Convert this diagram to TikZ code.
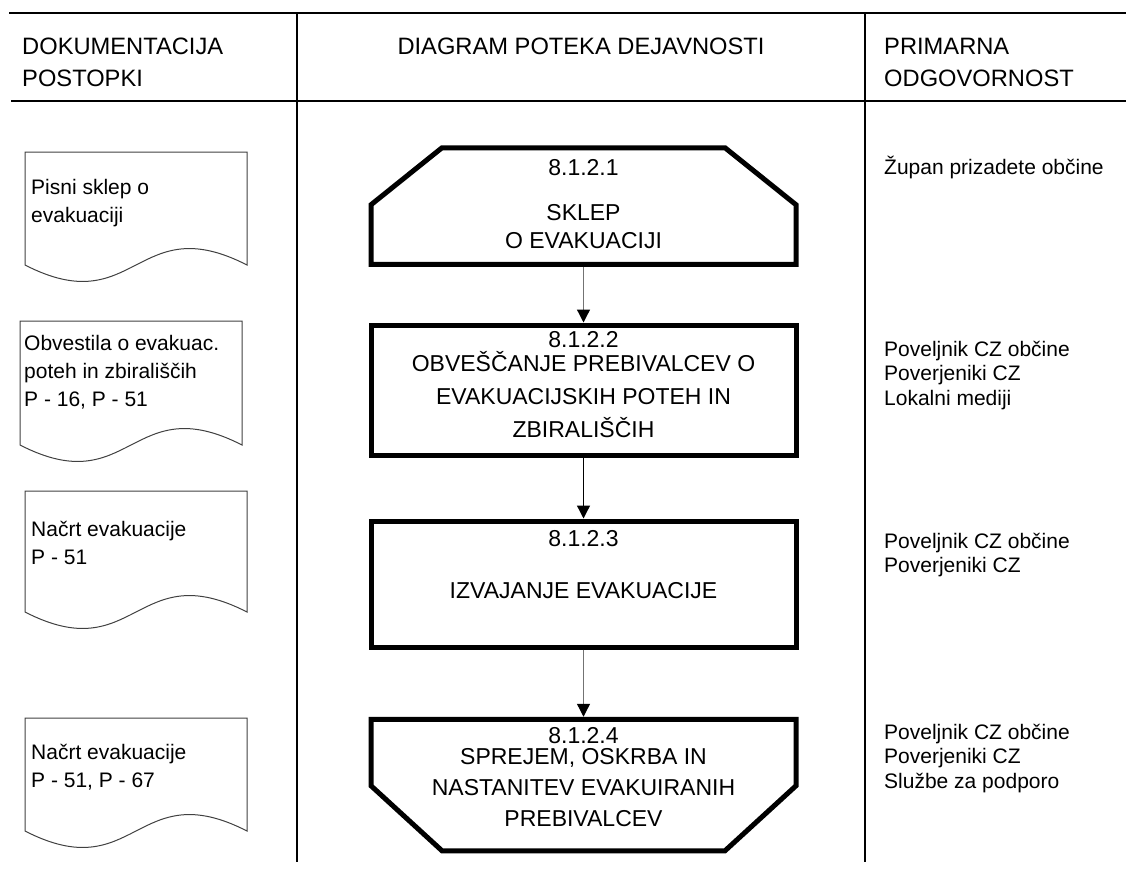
\documentclass[tikz,border=0pt]{standalone}
\usepackage{fontspec}
\setmainfont{Liberation Sans}
\usetikzlibrary{arrows.meta,positioning}

\newcommand{\leftstack}[1]{\begin{tabular}[t]{@{}l@{}}#1\end{tabular}}
\newcommand{\midstack}[1]{\begin{tabular}[t]{@{}c@{}}#1\end{tabular}}

\tikzset{
  colline/.style={line width=1.3pt},
  procbox/.style={line width=5pt, minimum width=425pt, inner sep=0pt, outer sep=0pt},
  boxline/.style={line width=5pt, line join=miter},
  docline/.style={draw=black!75, line width=1pt},
  flowline/.style={draw=black!55, line width=1.3pt, shorten <=2.5pt, shorten >=2.5pt,
    -{Triangle[width=13pt,length=13pt,color=black]}},
  headtext/.style={inner sep=0pt, font=\fontsize{23.7}{32}\selectfont},
  boxtext/.style={inner sep=0pt, anchor=base, font=\fontsize{23}{31}\selectfont},
  doctext/.style={inner sep=0pt, anchor=base west, font=\fontsize{21}{28}\selectfont},
  roletext/.style={inner sep=0pt, anchor=base west, font=\fontsize{21}{24.5}\selectfont}
}

\begin{document}
\begin{tikzpicture}[x=1pt,y=-1pt]
  \useasboundingbox (0,0) rectangle (1126,870);

  % table frame
  \draw[colline] (9,13) -- (1126,13);
  \draw[colline] (11,101) -- (1126,101);
  \draw[colline] (297,13) -- (297,862);
  \draw[colline] (865,13) -- (865,862);

  % headings
  \node[headtext, anchor=base west] (hdrDoc) at (22,54.5) {\leftstack{DOKUMENTACIJA\\POSTOPKI}};
  \node[headtext, anchor=base] (hdrFlow) at (581,54.5) {DIAGRAM POTEKA DEJAVNOSTI};
  \node[headtext, anchor=base west] (hdrResp) at (884,54.5) {\leftstack{PRIMARNA\\ODGOVORNOST}};

  % documents
  \draw[docline] (25,152) -- (247,152) -- (247,265)
    .. controls (136,208) and (136,322) .. (25,265) -- cycle;
  \draw[docline] (20,321) -- (242,321) -- (242,445)
    .. controls (131,388) and (131,502) .. (20,445) -- cycle;
  \draw[docline] (25,491) -- (247,491) -- (247,612)
    .. controls (136,555) and (136,669) .. (25,612) -- cycle;
  \draw[docline] (25,718) -- (247,718) -- (247,831)
    .. controls (136,774) and (136,888) .. (25,831) -- cycle;
  \node[doctext] (docA) at (31,194) {\leftstack{Pisni sklep o\\evakuaciji}};
  \node[doctext] (docB) at (24,350) {\leftstack{Obvestila o evakuac.\\poteh in zbirališčih\\P - 16, P - 51}};
  \node[doctext] (docC) at (31,536) {\leftstack{Načrt evakuacije\\P - 51}};
  \node[doctext] (docD) at (31,759) {\leftstack{Načrt evakuacije\\P - 51, P - 67}};

  % activity boxes
  \node[procbox, minimum height=116.5pt] (stepA) at (583.5,206) {};
  \node[procbox, draw, minimum height=130pt] (stepB) at (583.5,390) {};
  \node[procbox, draw, minimum height=126pt] (stepC) at (583.5,584) {};
  \node[procbox, minimum height=131.5pt] (stepD) at (583.5,785) {};
  \draw[boxline] ([xshift=71pt]stepA.north west) -- ([xshift=-71pt]stepA.north east)
    -- ([yshift=-57pt]stepA.north east) -- (stepA.south east)
    -- (stepA.south west) -- ([yshift=-57pt]stepA.north west) -- cycle;
  \draw[boxline] (stepD.north west) -- (stepD.north east)
    -- ([yshift=65pt]stepD.south east) -- ([xshift=-71pt]stepD.south east)
    -- ([xshift=71pt]stepD.south west) -- ([yshift=65pt]stepD.south west) -- cycle;

  \node[boxtext] (numA) at (583.5,175) {8.1.2.1};
  \node[boxtext, font=\fontsize{23}{28}\selectfont] (textA) at (583.5,220) {\midstack{SKLEP\\O EVAKUACIJI}};
  \node[boxtext] (numB) at (583.5,347) {8.1.2.2};
  \node[boxtext, font=\fontsize{23}{33}\selectfont] (textB) at (583.5,371)
    {\midstack{OBVEŠČANJE PREBIVALCEV O\\EVAKUACIJSKIH POTEH IN\\ZBIRALIŠČIH}};
  \node[boxtext] (numC) at (583.5,546) {8.1.2.3};
  \node[boxtext] (textC) at (583.5,598) {IZVAJANJE EVAKUACIJE};
  \node[boxtext] (numD) at (583.5,743) {8.1.2.4};
  \node[boxtext] (textD) at (583.5,764)
    {\midstack{SPREJEM, OSKRBA IN\\NASTANITEV EVAKUIRANIH\\PREBIVALCEV}};

  \draw[flowline] (stepA) -- (stepB);
  \draw[flowline, draw=black] (stepB) -- (stepC);
  \draw[flowline] (stepC) -- (stepD);

  % responsibilities
  \node[roletext] (roleA) at (884,174) {Župan prizadete občine};
  \node[roletext] (roleB) at (884,356) {\leftstack{Poveljnik CZ občine\\Poverjeniki CZ\\Lokalni mediji}};
  \node[roletext] (roleC) at (884,548) {\leftstack{Poveljnik CZ občine\\Poverjeniki CZ}};
  \node[roletext] (roleD) at (884,739) {\leftstack{Poveljnik CZ občine\\Poverjeniki CZ\\Službe za podporo}};
\end{tikzpicture}
\end{document}
